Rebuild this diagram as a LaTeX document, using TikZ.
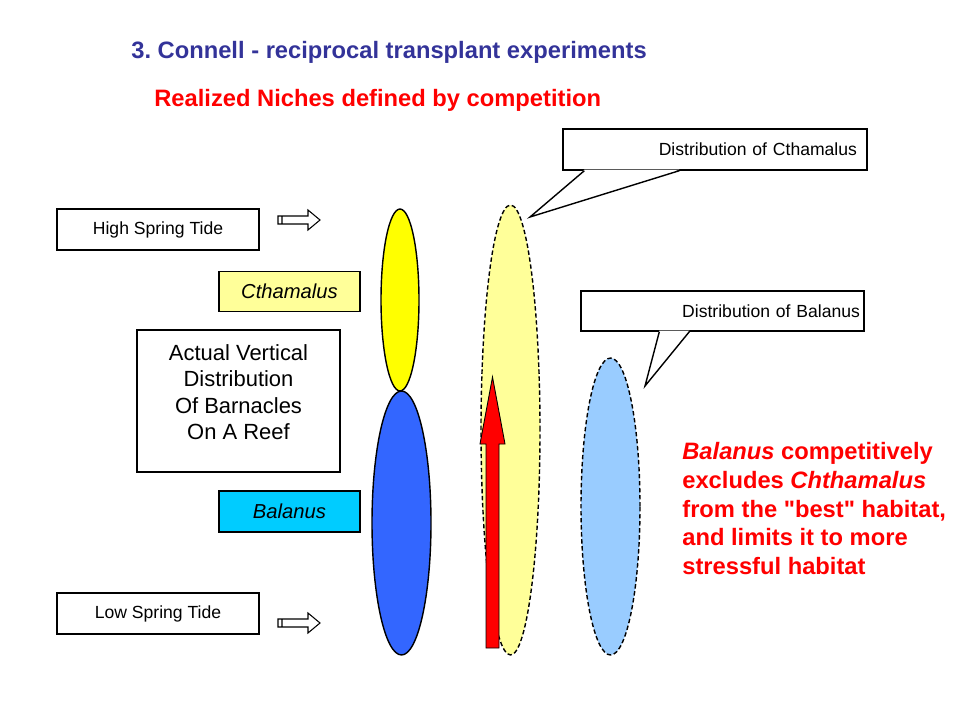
\documentclass[tikz,border=0pt]{standalone}
\usepackage{fontspec}
\setmainfont{Liberation Sans}
\usetikzlibrary{positioning, calc}
\usetikzlibrary{shapes.geometric}

\definecolor{titleblue}{HTML}{333399}
\definecolor{chyellow}{HTML}{FFFF00}
\definecolor{paleyellow}{HTML}{FFFF99}
\definecolor{balblue}{HTML}{3366FF}
\definecolor{balcyan}{HTML}{00CCFF}
\definecolor{lightblue}{HTML}{99CCFF}

\tikzset{
  tidebox/.style={draw, line width=0.8pt, minimum width=4.04cm, minimum height=0.82cm, inner sep=0pt, font=\fontsize{10}{12}\selectfont},
  speciesbox/.style={draw, line width=0.8pt, minimum width=2.82cm, minimum height=0.8cm, inner sep=0pt, font=\fontsize{11.5}{13}\selectfont\itshape},
  callbox/.style={draw, line width=0.8pt, minimum height=0.82cm, inner sep=0pt, font=\fontsize{10}{12}\selectfont},
  barnacle/.style={ellipse, draw, line width=0.8pt, inner sep=0pt},
  spread/.style={barnacle, dash pattern=on 2.5pt off 1.5pt},
  headline/.style={anchor=west, inner sep=0pt, font=\fontsize{13.5}{16}\selectfont\bfseries}
}

\begin{document}
\frenchspacing
\begin{tikzpicture}[x=0.02cm, y=-0.02cm]
    \useasboundingbox (0,0) rectangle (960,720);
    % headings
    \node[headline, text=titleblue] (title) at (131,52) {3. Connell - reciprocal transplant experiments};
    \node[headline, text=red] (subtitle) at (154,100) {Realized Niches defined by competition};
    % left column
    \node[tidebox] (hightide) at (158,229.5) {High Spring Tide};
    \node[speciesbox, fill=paleyellow] (chlabel) at (289.5,291.5) {Cthamalus};
    \node[draw, line width=0.8pt, minimum width=4.06cm, minimum height=2.84cm, align=center, font=\fontsize{12.5}{15}\selectfont] (actual) at (238.5,401) {Actual Vertical\\Distribution\\Of Barnacles\\On A Reef\\[-4.8pt]\mbox{}};
    \node[speciesbox, fill=balcyan, minimum height=0.82cm] (ballabel) at (289.5,511.5) {Balanus};
    \node[tidebox] (lowtide) at (158,613.5) {Low Spring Tide};
    \foreach \ty in {220,623}
        \draw[line width=0.6pt, fill=white, shift={(278,\ty)}] (0,-4) -- (30,-4) -- (30,-10) -- (42,0) -- (30,10) -- (30,4) -- (0,4) -- cycle (4,-4) -- (4,4);
    % realized and fundamental niches
    \node[barnacle, fill=chyellow, minimum width=0.76cm, minimum height=3.64cm] (chreal) at (400,300) {};
    \node[barnacle, fill=balblue, minimum width=1.18cm, minimum height=5.28cm] (balreal) at (401.5,523) {};
    \node[spread, fill=paleyellow, minimum width=1.18cm, minimum height=9cm] (chfund) at (510.5,430) {};
    \node[spread, fill=lightblue, minimum width=1.18cm, minimum height=5.94cm] (balfund) at (610.5,506.5) {};
    \draw[fill=red, line width=0.5pt, shift={(492.5,648)}] (-6.5,0) -- (-6.5,-204) -- (-12.5,-204) -- (0,-271) -- (12.5,-204) -- (6.5,-204) -- (6.5,0) -- cycle;
    % callouts
    \node[callbox, minimum width=6.08cm, text width=5.68cm, align=right] (chdist) at (715,149.5) {Distribution of Cthamalus};
    \coordinate (chtip) at (530,217);
    \fill[white] ($(chdist.south west)+(22,-1)$) -- (chtip) -- ($(chdist.south west)+(117,-1)$) -- cycle;
    \draw[line width=0.8pt] ($(chdist.south west)+(22,0)$) -- (chtip) -- ($(chdist.south west)+(117,0)$);
    \node[callbox, minimum width=5.66cm, text width=5.5cm, align=right, minimum height=0.8cm] (baldist) at (722.5,311) {Distribution of Balanus};
    \coordinate (baltip) at (645,386);
    \fill[white] ($(baldist.south west)+(79,-1)$) -- (baltip) -- ($(baldist.south west)+(109,-1)$) -- cycle;
    \draw[line width=0.8pt] ($(baldist.south west)+(79,0)$) -- (baltip) -- ($(baldist.south west)+(109,0)$);
    % note
    \node[anchor=north west, text=red, align=left, inner sep=0pt, font=\fontsize{13.5}{16.4}\selectfont\bfseries] (note) at (682,442) {\textit{Balanus} competitively\\excludes \textit{Chthamalus}\\from the \textquotedbl best\textquotedbl{} habitat,\\and limits it to more\\stressful habitat};
\end{tikzpicture}
\end{document}
